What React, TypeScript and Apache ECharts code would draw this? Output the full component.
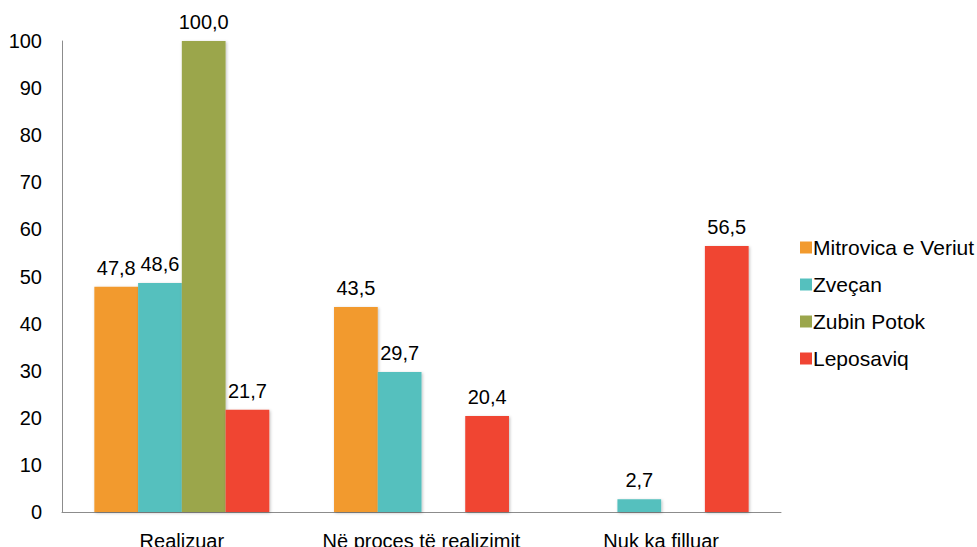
import React, { useEffect, useRef } from "react";
import * as echarts from "echarts";

const categories = ["Realizuar", "Në proces të realizimit", "Nuk ka filluar"];
const seriesNames = ["Mitrovica e Veriut", "Zveçan", "Zubin Potok", "Leposaviq"];
const mitrovica: (number | null)[] = [47.8, 43.5, null];
const zvecan: (number | null)[] = [48.6, 29.7, 2.7];
const zubinPotok: (number | null)[] = [100.0, null, null];
const leposaviq: (number | null)[] = [21.7, 20.4, 56.5];
const colors = ["#f29a2e", "#55c0be", "#9ba64c", "#f04433"];
const yTicks = { min: 0, max: 100, interval: 10 };

const FONT = "'Liberation Sans', Arial, sans-serif";

export default function App() {
  const ref = useRef<HTMLDivElement>(null);
  useEffect(() => {
    if (!ref.current) return;
    document.body.style.margin = "0";
    document.body.style.overflow = "hidden";
    const chart = echarts.init(ref.current, undefined, { renderer: "svg" });
    const dataSets = [mitrovica, zvecan, zubinPotok, leposaviq];
    chart.setOption({
      animation: false,
      textStyle: { fontFamily: FONT },
      grid: { left: 62, right: 196, top: 41, bottom: 35, containLabel: false, outerBoundsMode: "none" },
      legend: {
        orient: "vertical",
        left: 795,
        top: 232,
        itemWidth: 12,
        itemHeight: 12,
        itemGap: 16,
        icon: "rect",
        textStyle: { fontSize: 21, color: "#000", fontFamily: FONT, padding: [0, 0, 0, -4] },
        data: seriesNames,
      },
      xAxis: {
        type: "category",
        data: categories,
        axisLine: { show: true, lineStyle: { color: "#8c8c8c", width: 1 } },
        axisTick: { show: false },
        axisLabel: { color: "#000", fontSize: 20, margin: 19, interval: 0, fontFamily: FONT },
        splitLine: { show: false },
      },
      yAxis: {
        type: "value",
        min: yTicks.min,
        max: yTicks.max,
        interval: yTicks.interval,
        axisLine: { show: true, lineStyle: { color: "#8c8c8c", width: 1 } },
        axisTick: { show: false },
        axisLabel: { color: "#000", fontSize: 20, margin: 20, fontFamily: FONT },
        splitLine: { show: false },
      },
      series: seriesNames.map((name, i) => ({
        name,
        type: "bar",
        data: dataSets[i],
        barGap: "0%",
        barCategoryGap: "27%",
        itemStyle: {
          color: colors[i],
          shadowBlur: 3,
          shadowOffsetX: 1,
          shadowOffsetY: 1,
          shadowColor: "rgba(0,0,0,0.25)",
        },
        label: {
          show: true,
          position: "top",
          distance: 9,
          color: "#000",
          fontSize: 20,
          fontFamily: FONT,
          formatter: (p: any) => (p.value == null ? "" : Number(p.value).toFixed(1).replace(".", ",")),
        },
      })),
    });
    return () => chart.dispose();
  }, []);
  return (
    <div style={{ width: 977, height: 547, overflow: "hidden", position: "absolute", left: 0, top: 0 }}>
      <div ref={ref} style={{ width: 977, height: 547 }} />
    </div>
  );
}
